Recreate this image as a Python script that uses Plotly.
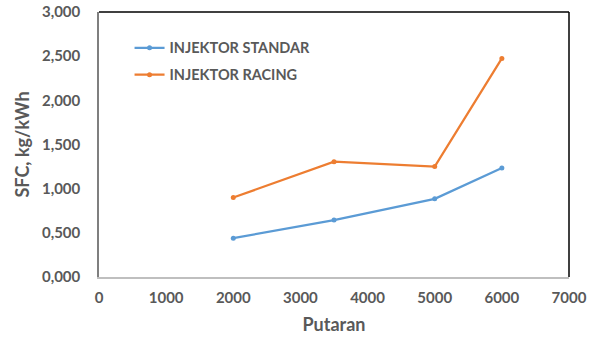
import plotly.graph_objects as go

rpm = [2000, 3500, 5000, 6000]
sfc_standar = [0.44, 0.645, 0.885, 1.235]
sfc_racing = [0.90, 1.305, 1.25, 2.475]
y_ticks = [0, 0.5, 1.0, 1.5, 2.0, 2.5, 3.0]
x_ticks = [0, 1000, 2000, 3000, 4000, 5000, 6000, 7000]

FONT = "Lato"
GRAY = "#595959"

fig = go.Figure()
fig.add_trace(go.Scatter(x=rpm, y=sfc_standar, mode="lines+markers", name="INJEKTOR STANDAR",
                         legendgroup="a",
                         line=dict(color="#5B9BD5", width=2.25), marker=dict(size=5, color="#5B9BD5")))
fig.add_trace(go.Scatter(x=rpm, y=sfc_racing, mode="lines+markers", name="INJEKTOR RACING",
                         legendgroup="b",
                         line=dict(color="#ED7D31", width=2.25), marker=dict(size=5, color="#ED7D31")))

fig.update_layout(
    width=594, height=337,
    margin=dict(l=99, r=25, t=12, b=60),
    paper_bgcolor="white", plot_bgcolor="white",
    separators=",.",
    font=dict(family=FONT, color=GRAY, size=14),
    showlegend=True,
    legend=dict(x=0.065, y=0.925, xanchor="left", yanchor="top", bgcolor="rgba(0,0,0,0)",
                font=dict(family=FONT, size=14.5, color=GRAY, weight="bold"),
                itemwidth=30, tracegroupgap=5),
    xaxis=dict(range=[0, 7000], tickvals=x_ticks, showgrid=False, zeroline=False,
               showline=True, linecolor="#BFBFBF", linewidth=1.5, ticks="",
               ticklabelstandoff=6, automargin=False,
               tickfont=dict(family=FONT, size=15, color=GRAY, weight="bold"),
               title=dict(text="Putaran", font=dict(family=FONT, size=18, color=GRAY, weight="bold"), standoff=14)),
    yaxis=dict(range=[0, 3.0], tickvals=y_ticks, tickformat=".3f", showgrid=False, zeroline=False,
               showline=True, linecolor="#7F7F7F", linewidth=1.5, ticks="",
               ticklabelstandoff=14, automargin=False,
               tickfont=dict(family=FONT, size=15, color=GRAY, weight="bold"),
               title=dict(text="SFC, kg/kWh", font=dict(family=FONT, size=18, color=GRAY, weight="bold"), standoff=8)),
)
fig.add_shape(type="line", xref="paper", yref="paper", x0=0, x1=1, y0=1, y1=1,
              line=dict(color="black", width=1.5))
fig.add_shape(type="line", xref="paper", yref="paper", x0=1, x1=1, y0=0, y1=1,
              line=dict(color="black", width=1.5))

fig.write_html("out.html")
